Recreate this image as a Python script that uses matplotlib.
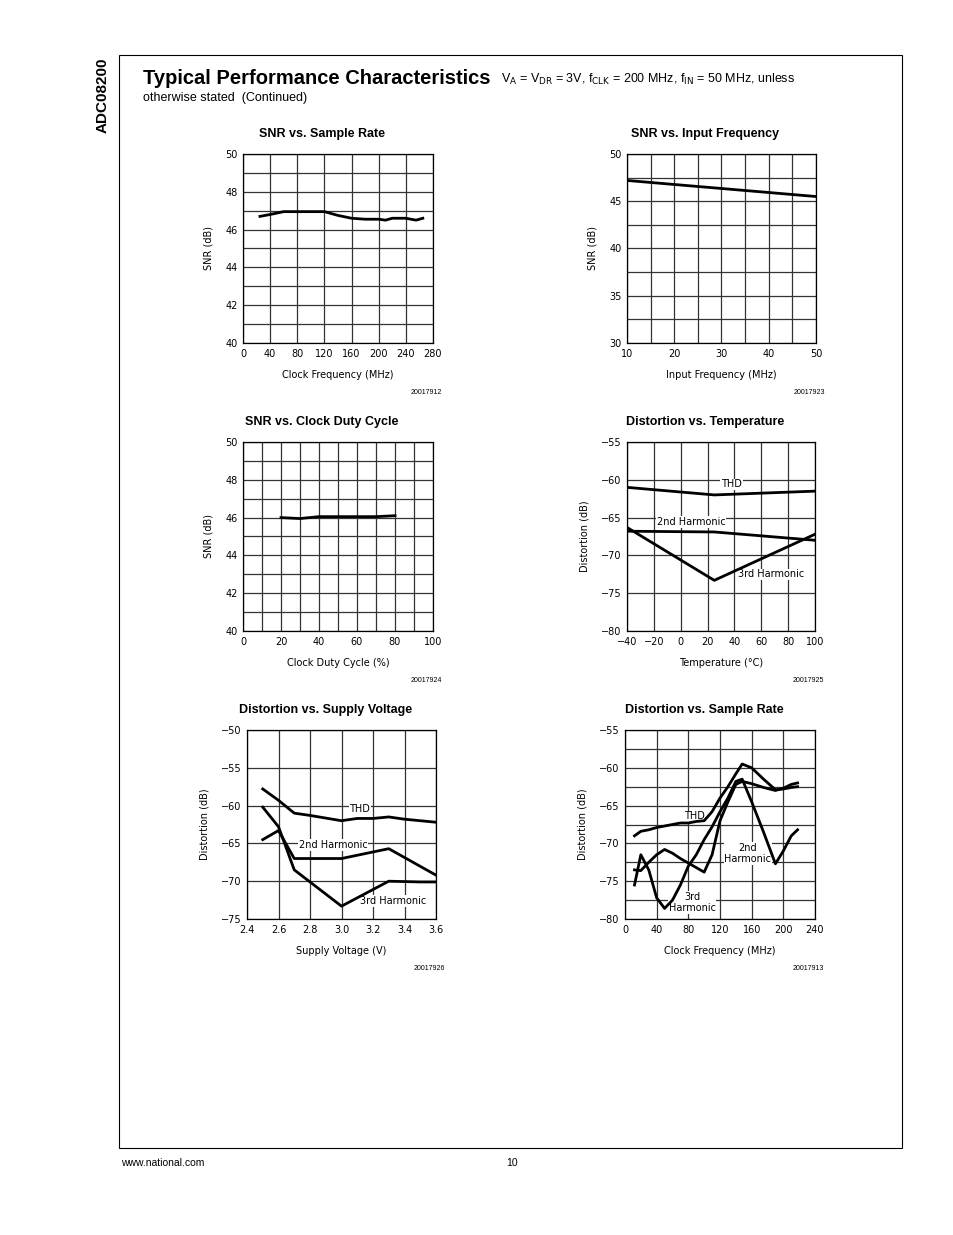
import numpy as np
import matplotlib.pyplot as plt
from matplotlib.patches import Rectangle

W, H = 954, 1235

# ---- data ----
sr_clk = [25, 40, 60, 80, 100, 120, 140, 160, 180, 200, 210, 220, 240, 255, 265]
sr_snr = [46.7, 46.8, 46.95, 46.95, 46.95, 46.95, 46.75, 46.6, 46.55, 46.55, 46.5, 46.6, 46.6, 46.5, 46.6]

fin = [10, 50]
fin_snr = [47.2, 45.5]

duty = [20, 30, 40, 50, 60, 70, 80]
duty_snr = [46.0, 45.95, 46.05, 46.05, 46.05, 46.05, 46.1]

temp = [-40, 25, 100]
temp_thd = [-61.0, -62.0, -61.5]
temp_h2 = [-66.8, -66.9, -68.0]
temp_h3 = [-66.3, -73.3, -67.2]

vsup = [2.5, 2.6, 2.7, 2.8, 3.0, 3.1, 3.2, 3.3, 3.4, 3.6]
vs_thd = [-57.8, -59.3, -61.0, -61.3, -62.0, -61.7, -61.7, -61.5, -61.8, -62.2]
vs_h2_v = [2.5, 2.6, 2.7, 3.0, 3.3, 3.6]
vs_h2 = [-64.5, -63.3, -67.0, -67.0, -65.7, -69.2]
vs_h3_v = [2.5, 2.6, 2.7, 3.0, 3.3, 3.5, 3.6]
vs_h3 = [-60.2, -62.8, -68.5, -73.3, -70.0, -70.1, -70.1]

clk = [12, 20, 30, 40, 50, 60, 70, 80, 90, 100, 110, 120, 130, 140, 148, 160, 175, 190, 200, 210, 218]
clk_thd = [-69.0, -68.4, -68.2, -67.9, -67.7, -67.5, -67.3, -67.3, -67.1, -67.0, -65.8, -64.0, -62.5, -60.8, -59.5, -60.0, -61.5, -62.9, -62.8, -62.6, -62.5]
clk_h2 = [-73.5, -73.6, -72.5, -71.5, -70.8, -71.3, -72.0, -72.6, -73.2, -73.8, -71.5, -67.0, -64.5, -62.2, -61.8, -62.1, -62.6, -63.0, -62.7, -62.2, -62.0]
clk_h3 = [-75.5, -71.5, -73.5, -77.2, -78.6, -77.5, -75.5, -73.0, -71.5, -69.5, -67.8, -65.8, -64.0, -61.8, -61.5, -64.5, -68.5, -72.7, -71.0, -69.0, -68.2]

fig = plt.figure(figsize=(W / 100, H / 100), dpi=100)
plt.rcParams['font.family'] = 'DejaVu Sans'


def px_axes(x0, y0, x1, y1):
    return fig.add_axes([x0 / W, 1 - y1 / H, (x1 - x0) / W, (y1 - y0) / H])


def fx(x):
    return x / W


def fy(y):
    return 1 - y / H


# page frame
fig.patches.append(Rectangle((fx(119), fy(1148)), fx(902) - fx(119), fy(55) - fy(1148),
                             transform=fig.transFigure, fill=False, lw=0.8, color='black'))
fig.text(fx(103), fy(95), 'ADC08200', rotation=90, ha='center', va='center',
         fontsize=11, fontweight='bold', family='Liberation Sans')
fig.text(fx(143), fy(78), 'Typical Performance Characteristics', fontsize=14.5,
         fontweight='bold', family='Liberation Sans', va='center')
fig.text(fx(501), fy(79), r'V$_{\rm A}$ = V$_{\rm DR}$ = 3V, f$_{\rm CLK}$ = 200 MHz, f$_{\rm IN}$ = 50 MHz, unless',
         fontsize=9, family='Liberation Sans', va='center')
fig.text(fx(143), fy(98), 'otherwise stated  (Continued)', fontsize=9, family='Liberation Sans', va='center')
fig.text(fx(121), fy(1163), 'www.national.com', fontsize=7.5, family='Liberation Sans', va='center')
fig.text(fx(512), fy(1163), '10', fontsize=7.5, family='Liberation Sans', va='center', ha='center')


def make(box, title, code, xlim, xticks, xgrid, ylim, yticks, ygrid, xlabel, ylabel):
    ax = px_axes(*box)
    ax.set_xlim(*xlim)
    ax.set_ylim(*ylim)
    ax.set_xticks(xticks)
    ax.set_yticks(yticks)
    ax.set_xticks(xgrid, minor=True)
    ax.set_yticks(ygrid, minor=True)
    ax.grid(True, which='both', color='#333333', lw=0.9)
    ax.tick_params(which='both', length=0, labelsize=7, pad=4)
    ax.set_xlabel(xlabel, fontsize=7, labelpad=8)
    ax.set_ylabel(ylabel, fontsize=7, labelpad=8)
    for s in ax.spines.values():
        s.set_linewidth(0.9)
    ax.set_axisbelow(True)
    x0, y0, x1, y1 = box
    fig.text(fx((x0 + x1) / 2 - 16), fy(y0 - 20), title, ha='center', va='center',
             fontsize=9, fontweight='bold', family='Liberation Sans')
    fig.text(fx(x1 + 9), fy(y1 + 49), code, ha='right', va='center', fontsize=5,
             family='Liberation Sans')
    return ax


lw = 2
kw = dict(fontsize=7, zorder=1.8, bbox=dict(facecolor='white', edgecolor='none', pad=0.5))

# 1 SNR vs sample rate
ax = make((243, 154, 433, 343), 'SNR vs. Sample Rate', '20017912', (0, 280), range(0, 281, 40),
          np.arange(0, 281, 40), (40, 50), range(40, 51, 2), np.arange(40, 50.1, 1),
          'Clock Frequency (MHz)', 'SNR (dB)')
ax.plot(sr_clk, sr_snr, color='black', lw=lw)

# 2 SNR vs input frequency
ax = make((627, 154, 816, 343), 'SNR vs. Input Frequency', '20017923', (10, 50), range(10, 51, 10),
          np.arange(10, 51, 5), (30, 50), range(30, 51, 5), np.arange(30, 50.1, 2.5),
          'Input Frequency (MHz)', 'SNR (dB)')
ax.plot(fin, fin_snr, color='black', lw=lw)

# 3 SNR vs duty cycle
ax = make((243, 442, 433, 631), 'SNR vs. Clock Duty Cycle', '20017924', (0, 100), range(0, 101, 20),
          np.arange(0, 101, 10), (40, 50), range(40, 51, 2), np.arange(40, 50.1, 1),
          'Clock Duty Cycle (%)', 'SNR (dB)')
ax.plot(duty, duty_snr, color='black', lw=lw)

# 4 Distortion vs temperature
ax = make((627, 442, 815, 631), 'Distortion vs. Temperature', '20017925', (-40, 100), range(-40, 101, 20),
          np.arange(-40, 101, 20), (-80, -55), range(-80, -54, 5), np.arange(-80, -54, 5),
          'Temperature (°C)', 'Distortion (dB)')
ax.plot(temp, temp_thd, color='black', lw=lw)
ax.plot(temp, temp_h2, color='black', lw=lw)
ax.plot(temp, temp_h3, color='black', lw=lw)
ax.text(30, -61.0, 'THD', **kw)
ax.text(-18, -66.0, '2nd Harmonic', **kw)
ax.text(43, -72.9, '3rd Harmonic', **kw)

# 5 Distortion vs supply voltage
ax = make((247, 730, 436, 919), 'Distortion vs. Supply Voltage', '20017926', (2.4, 3.6),
          np.arange(2.4, 3.61, 0.2), np.arange(2.4, 3.61, 0.2), (-75, -50), range(-75, -49, 5),
          np.arange(-75, -49, 5), 'Supply Voltage (V)', 'Distortion (dB)')
ax.set_xticklabels(['2.4', '2.6', '2.8', '3.0', '3.2', '3.4', '3.6'])
ax.plot(vsup, vs_thd, color='black', lw=lw)
ax.plot(vs_h2_v, vs_h2, color='black', lw=lw)
ax.plot(vs_h3_v, vs_h3, color='black', lw=lw)
ax.text(3.05, -60.8, 'THD', **kw)
ax.text(2.73, -65.6, '2nd Harmonic', **kw)
ax.text(3.12, -73.0, '3rd Harmonic', **kw)

# 6 Distortion vs sample rate
ax = make((625, 730, 815, 919), 'Distortion vs. Sample Rate', '20017913', (0, 240), range(0, 241, 40),
          np.arange(0, 241, 40), (-80, -55), range(-80, -54, 5), np.arange(-80, -54, 2.5),
          'Clock Frequency (MHz)', 'Distortion (dB)')
ax.plot(clk, clk_thd, color='black', lw=lw)
ax.plot(clk, clk_h2, color='black', lw=lw)
ax.plot(clk, clk_h3, color='black', lw=lw)
ax.text(75, -66.8, 'THD', **kw)
ax.text(155, -72.5, '2nd\nHarmonic', ha='center', **kw)
ax.text(85, -79.0, '3rd\nHarmonic', ha='center', **kw)

fig.savefig('out.png', dpi=100)
